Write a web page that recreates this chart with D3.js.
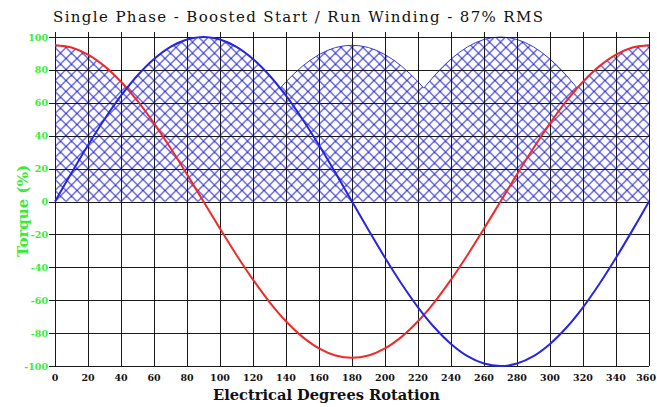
<!DOCTYPE html>
<html><head><meta charset="utf-8">
<script src="https://cdn.jsdelivr.net/npm/d3@7"></script>
<style>
html,body{margin:0;padding:0;background:#fff;}
svg{display:block;}
</style></head>
<body>
<svg id="chart" width="657" height="407"></svg>
<script>
// ---- data ----
const title = "Single Phase - Boosted Start / Run Winding - 87% RMS";
const xLabel = "Electrical Degrees Rotation";
const yLabel = "Torque (%)";
const xTicks = [0,20,40,60,80,100,120,140,160,180,200,220,240,260,280,300,320,340,360];
const yTicks = [-100,-80,-60,-40,-20,0,20,40,60,80,100];
// angles every 10 degrees
const degrees = [0,10,20,30,40,50,60,70,80,90,100,110,120,130,140,150,160,170,180,
  190,200,210,220,230,240,250,260,270,280,290,300,310,320,330,340,350,360];
// start winding (red)
const startWinding = [95,93.6,89.3,82.3,72.8,61.1,47.5,32.5,16.5,0,-16.5,-32.5,-47.5,-61.1,-72.8,-82.3,-89.3,-93.6,-95,
  -93.6,-89.3,-82.3,-72.8,-61.1,-47.5,-32.5,-16.5,0,16.5,32.5,47.5,61.1,72.8,82.3,89.3,93.6,95];
// run winding (blue)
const runWinding = [0,17.4,34.2,50,64.3,76.6,86.6,94,98.5,100,98.5,94,86.6,76.6,64.3,50,34.2,17.4,0,
  -17.4,-34.2,-50,-64.3,-76.6,-86.6,-94,-98.5,-100,-98.5,-94,-86.6,-76.6,-64.3,-50,-34.2,-17.4,0];
// resulting torque envelope (hatched area)
const envDegrees = [0,5,10,15,20,25,30,35,40,43.5,45,50,55,60,65,70,75,80,85,90,95,100,105,110,115,120,125,130,135,136.5,
  140,145,150,155,160,165,170,175,180,185,190,195,200,205,210,215,220,223.5,225,230,235,240,245,250,255,260,265,270,
  275,280,285,290,295,300,305,310,315,316.5,320,325,330,335,340,345,350,355,360];
const envTorque = [95,94.6,93.6,91.8,89.3,86.1,82.3,77.8,72.8,68.9,70.7,76.6,81.9,86.6,90.6,94,96.6,98.5,99.6,100,99.6,98.5,96.6,94,90.6,86.6,81.9,76.6,70.7,68.9,
  72.8,77.8,82.3,86.1,89.3,91.8,93.6,94.6,95,94.6,93.6,91.8,89.3,86.1,82.3,77.8,72.8,68.9,70.7,76.6,81.9,86.6,90.6,94,96.6,98.5,99.6,100,
  99.6,98.5,96.6,94,90.6,86.6,81.9,76.6,70.7,68.9,72.8,77.8,82.3,86.1,89.3,91.8,93.6,94.6,95];

// ---- layout ----
const svg = d3.select("#chart");
const mLeft = 55, mRight = 649, mTop = 37, mBottom = 366;
const x = d3.scaleLinear().domain([0,360]).range([mLeft,mRight]);
const y = d3.scaleLinear().domain([-100,100]).range([mBottom,mTop]);
const serif = "DejaVu Serif, Liberation Serif, serif";

const defs = svg.append("defs");
const pat = defs.append("pattern").attr("id","hatch").attr("patternUnits","userSpaceOnUse")
  .attr("width",11).attr("height",11).attr("x",mLeft).attr("y",y(0));
pat.append("path").attr("d","M0,0L11,11M0,11L11,0M-1,1L1,-1M10,12L12,10M-1,10L1,12M10,-1L12,1")
  .attr("stroke","#3232d4").attr("stroke-width",1.1).attr("fill","none");

// hatched envelope
const env = envDegrees.map((d,i)=>({d, v: envTorque[i]}));
svg.append("path").datum(env)
  .attr("d", d3.area().x(p=>x(p.d)).y0(y(0)).y1(p=>y(p.v)))
  .attr("fill","url(#hatch)");
svg.append("path").datum(env)
  .attr("d", d3.line().x(p=>x(p.d)).y(p=>y(p.v)))
  .attr("fill","none").attr("stroke","#3a3ad8").attr("stroke-width",1);

// grid
const grid = svg.append("g").attr("shape-rendering","crispEdges");
grid.selectAll("line.v").data(xTicks).join("line")
  .attr("x1",d=>Math.round(x(d))+0.5).attr("x2",d=>Math.round(x(d))+0.5)
  .attr("y1",mTop-5).attr("y2",mBottom)
  .attr("stroke","#1a1a1a").attr("stroke-width",1);
grid.selectAll("line.h").data(yTicks).join("line")
  .attr("x1",mLeft-6).attr("x2",mRight)
  .attr("y1",d=>Math.round(y(d))+0.5).attr("y2",d=>Math.round(y(d))+0.5)
  .attr("stroke","#1a1a1a").attr("stroke-width",1);

// curves
const redPts = degrees.map((d,i)=>({d, v:startWinding[i]}));
const bluePts = degrees.map((d,i)=>({d, v:runWinding[i]}));
const line = d3.line().x(p=>x(p.d)).y(p=>y(p.v)).curve(d3.curveCatmullRom);
svg.append("path").datum(redPts).attr("d",line)
  .attr("fill","none").attr("stroke","#ee2a2a").attr("stroke-width",2);
svg.append("path").datum(bluePts).attr("d",line)
  .attr("fill","none").attr("stroke","#2626e0").attr("stroke-width",2);

// tick labels
svg.append("g").selectAll("text").data(yTicks).join("text")
  .attr("x",48).attr("y",d=>y(d)+3.5).attr("text-anchor","end")
  .attr("font-family",serif).attr("font-weight","bold").attr("font-size",9.5)
  .attr("fill","#33ee33").text(d=>d);
svg.append("g").selectAll("text").data(xTicks).join("text")
  .attr("x",d=>d===360 ? 656 : x(d)).attr("y",381)
  .attr("text-anchor",d=>d===360 ? "end" : "middle")
  .attr("font-family",serif).attr("font-weight","bold").attr("font-size",9.5)
  .attr("fill","#111").text(d=>d);

// titles
svg.append("text").attr("x",53).attr("y",22)
  .attr("font-family",serif).attr("font-size",15).attr("font-weight","500")
  .attr("textLength",490).attr("lengthAdjust","spacing")
  .attr("fill","#111").text(title);
svg.append("text").attr("x",213).attr("y",400)
  .attr("font-family",serif).attr("font-weight","bold").attr("font-size",14.5)
  .attr("textLength",227).attr("lengthAdjust","spacingAndGlyphs")
  .attr("fill","#111").text(xLabel);
svg.append("text").attr("transform","translate(28,257) rotate(-90)")
  .attr("font-family",serif).attr("font-weight","bold").attr("font-size",14)
  .attr("textLength",92).attr("lengthAdjust","spacingAndGlyphs")
  .attr("fill","#33ee33").text(yLabel);
</script>
</body></html>
